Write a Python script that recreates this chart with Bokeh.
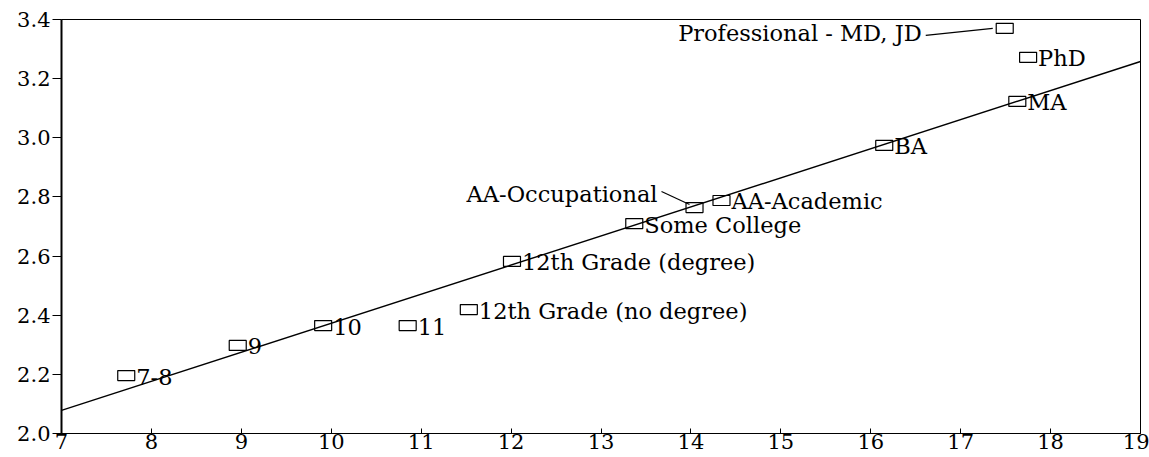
from bokeh.plotting import figure
from bokeh.models import Range1d, FixedTicker, ColumnDataSource, CustomJSTickFormatter
from bokeh.core.properties import value
from bokeh.embed import file_html
from bokeh.resources import INLINE

# Educational attainment groups, mean years of schooling and mean score
groups = ["7-8", "9", "10", "11", "12th Grade (no degree)", "12th Grade (degree)",
          "Some College", "AA-Occupational", "AA-Academic", "BA", "MA", "PhD",
          "Professional - MD, JD"]
years = [7.72, 8.96, 9.91, 10.85, 11.53, 12.01, 13.37, 14.04, 14.34, 16.15, 17.63, 17.75, 17.49]
score = [2.196, 2.298, 2.365, 2.365, 2.419, 2.582, 2.710, 2.764, 2.788, 2.974, 3.123, 3.272, 3.370]

# Fitted line across the axis span
fit_x = [7, 19]
fit_y = [2.078, 3.258]

x_ticks = [7, 8, 9, 10, 11, 12, 13, 14, 15, 16, 17, 18, 19]
y_ticks = [2.0, 2.2, 2.4, 2.6, 2.8, 3.0, 3.2, 3.4]

# Groups whose label sits to the left of the marker, joined by a leader line
left_labelled = ["AA-Occupational", "Professional - MD, JD"]

W, H = 1149, 457
BL, BR, BT, BB = 61, 9, 19, 24
X0, X1, Y0, Y1 = 7, 19, 2.0, 3.4
SERIF = "DejaVu Serif"
LABEL_SIZE = "22.5px"

p = figure(width=W, height=H, output_backend="svg", toolbar_location=None,
           x_range=Range1d(X0, X1), y_range=Range1d(Y0, Y1),
           min_border_left=BL, min_border_right=BR, min_border_top=BT, min_border_bottom=BB)

p.grid.visible = False
p.background_fill_color = "white"
p.border_fill_color = "white"
p.outline_line_color = "black"
p.outline_line_width = 1

# axes
for ax in (p.xaxis[0], p.yaxis[0]):
    ax.axis_line_color = "black"
    ax.major_tick_line_color = "black"
    ax.minor_tick_line_color = None
    ax.major_label_text_font = SERIF
    ax.major_label_text_font_size = "21px"
    ax.major_label_text_color = "black"

p.xaxis.ticker = FixedTicker(ticks=x_ticks)
p.xaxis.major_tick_in = 5
p.xaxis.major_tick_out = 0
p.xaxis.major_label_standoff = 0
p.xaxis.axis_line_width = 1

p.yaxis.ticker = FixedTicker(ticks=y_ticks)
p.yaxis.formatter = CustomJSTickFormatter(code="return tick.toFixed(1);")
p.yaxis.major_tick_in = 0
p.yaxis.major_tick_out = 9
p.yaxis.major_label_standoff = 2
p.yaxis.axis_line_width = 2

# regression line
p.line(fit_x, fit_y, line_color="black", line_width=1.4)

# hollow square markers
src = ColumnDataSource(dict(x=years, y=score, label=groups))
p.rect("x", "y", width=17, height=10, width_units="screen", height_units="screen",
       source=src, fill_alpha=0, line_color="black", line_width=1.2)

right_idx = [i for i, g in enumerate(groups) if g not in left_labelled]
right_src = ColumnDataSource(dict(x=[years[i] for i in right_idx],
                                  y=[score[i] for i in right_idx],
                                  label=[groups[i] for i in right_idx]))
p.text("x", "y", text="label", source=right_src, x_offset=10, y_offset=1,
       text_align="left", text_baseline="middle", text_font=value(SERIF),
       text_font_size=LABEL_SIZE, text_color="black")

# left-side labels with leader lines (pixel offsets from the marker centre)
px_x = (W - BL - BR) / (X1 - X0)
px_y = (H - BT - BB) / (Y1 - Y0)
leader = {
    "AA-Occupational": dict(tx=-37, ty=-14, l0=(-33, -16), l1=(-5, -3)),
    "Professional - MD, JD": dict(tx=-83, ty=5, l0=(-79, 7), l1=(-12, 0)),
}
for g in left_labelled:
    i = groups.index(g)
    cfg = leader[g]
    p.text([years[i]], [score[i]], text=[g], x_offset=cfg["tx"], y_offset=cfg["ty"],
           text_align="right", text_baseline="middle", text_font=value(SERIF),
           text_font_size=LABEL_SIZE, text_color="black")
    (a, b), (c, d) = cfg["l0"], cfg["l1"]
    p.segment(x0=[years[i] + a / px_x], y0=[score[i] - b / px_y],
              x1=[years[i] + c / px_x], y1=[score[i] - d / px_y],
              line_color="black", line_width=1.2)

open("out.html", "w").write(file_html(p, INLINE))
